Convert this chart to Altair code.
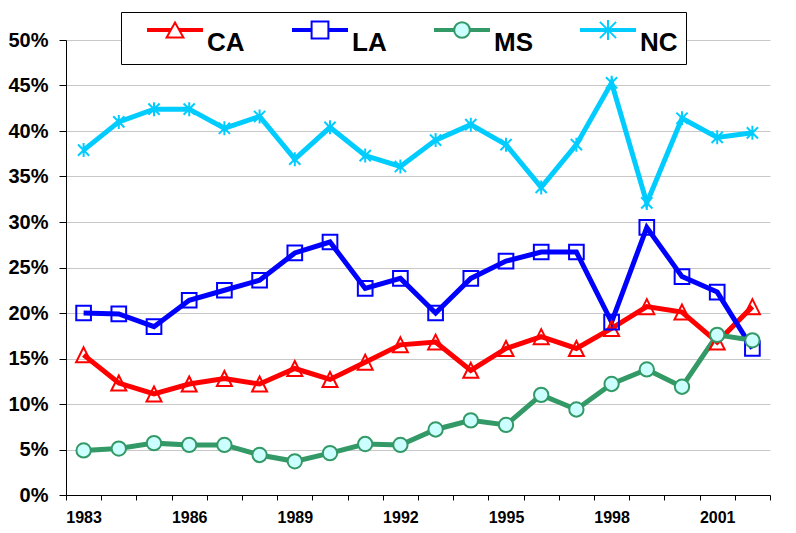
import altair as alt
import pandas as pd

years = list(range(1983, 2003))
series_names = ["CA", "LA", "MS", "NC"]
ca = [15.4, 12.3, 11.1, 12.2, 12.8, 12.2, 13.9, 12.7, 14.6, 16.5, 16.8, 13.7, 16.1, 17.4, 16.1, 18.3, 20.7, 20.1, 16.8, 20.7]
la = [20.0, 19.9, 18.5, 21.4, 22.5, 23.6, 26.6, 27.8, 22.7, 23.8, 20.0, 23.8, 25.7, 26.7, 26.7, 19.0, 29.4, 24.0, 22.3, 16.1]
ms = [4.9, 5.1, 5.7, 5.5, 5.5, 4.4, 3.7, 4.6, 5.6, 5.5, 7.2, 8.2, 7.7, 11.0, 9.4, 12.2, 13.8, 11.9, 17.6, 17.0]
nc = [37.9, 41.0, 42.4, 42.4, 40.3, 41.6, 36.9, 40.4, 37.3, 36.1, 39.0, 40.7, 38.5, 33.8, 38.5, 45.3, 32.1, 41.4, 39.3, 39.8]
line_colors = ["#FF0000", "#0000FF", "#339966", "#00CCFF"]
marker_fills = ["rgba(255,255,255,0)", "rgba(255,255,255,0)", "#CCFFFF", "rgba(255,255,255,0)"]
legend_fills = ["white", "white", "#CCFFFF", "white"]
y_ticks = [i * 0.05 for i in range(11)]

rows = []
for name, vals in zip(series_names, [ca, la, ms, nc]):
    for yr, v in zip(years, vals):
        rows.append({"year": yr, "series": name, "value": v / 100.0})
df = pd.DataFrame(rows)

TRI = "M0,-1L1,1L-1,1Z"
ASTER = "M0,-1L0,1M-0.8,-0.8L0.8,0.8M-0.8,0.8L0.8,-0.8"
marker_shapes = [TRI, "square", "circle", ASTER]
marker_sizes = [225, 196, 210, 324]


def seg(x0, x1):
    return "".join(f"M{x0},{dy}L{x1},{dy}" for dy in (-0.036, 0, 0.036))


legend_shapes = [
    seg(-1, -0.15) + seg(0.15, 1) + "M0,-0.27L0.3,0.27L-0.3,0.27Z",
    seg(-1, -0.3) + seg(0.3, 1) + "M-0.3,-0.3L0.3,-0.3L0.3,0.3L-0.3,0.3Z",
    seg(-1, -0.28) + seg(0.28, 1) + "M0.28,0A0.28,0.28 0 1,1 -0.28,0A0.28,0.28 0 1,1 0.28,0Z",
    seg(-1, 1) + "M0,-0.36L0,0.36M-0.29,-0.29L0.29,0.29M-0.29,0.29L0.29,-0.29",
]

FONT = "Liberation Sans"
NBSP = "\u00a0"

x_scale = alt.Scale(domain=[1982.5, 2002.5], nice=False, zero=False)
x_axis = alt.Axis(
    values=[y - 0.5 for y in years] + [2002.5],
    labelExpr="((datum.value + 0.5 - 1983) % 3 == 0) ? format(datum.value + 0.5, 'd') : ''",
    labelOffset=17.6,
    labelFlush=False,
    labelOverlap=False,
    grid=False,
    tickSize=5,
    tickColor="black",
    domainColor="black",
    labelFont=FONT,
    labelFontSize=16,
    labelFontWeight="bold",
    labelColor="black",
    labelPadding=9,
    title=None,
)
y_scale = alt.Scale(domain=[0, 0.5], nice=False)
y_axis = alt.Axis(
    values=y_ticks,
    format=".0%",
    grid=True,
    gridColor="#C8C8C8",
    gridWidth=1,
    tickSize=7,
    tickColor="black",
    domainColor="black",
    labelFont=FONT,
    labelFontSize=20,
    labelFontWeight="bold",
    labelColor="black",
    labelPadding=11,
    title=None,
)

legend = alt.Legend(
    title=None,
    orient="none",
    legendX=55,
    legendY=-28,
    direction="horizontal",
    columns=4,
    columnPadding=29,
    padding=8,
    clipHeight=20,
    symbolSize=3136,
    symbolStrokeWidth=2,
    symbolOpacity=1,
    symbolOffset=17,
    labelFont=FONT,
    labelFontSize=26,
    labelFontWeight="bold",
    labelColor="black",
    labelOffset=3,
    labelBaseline="top",
    labelExpr=f"datum.label == 'NC' ? datum.label + '{NBSP}{NBSP}' : datum.label + ' '",
    strokeColor="black",
    fillColor="white",
    cornerRadius=0,
)

base = alt.Chart(df).encode(
    x=alt.X("year:Q", scale=x_scale, axis=x_axis),
    y=alt.Y("value:Q", scale=y_scale, axis=y_axis),
)

lines = base.mark_line(strokeWidth=5).encode(
    color=alt.Color("series:N", scale=alt.Scale(domain=series_names, range=line_colors), legend=None),
    detail="series:N",
)

points = base.mark_point(filled=True, strokeWidth=2, opacity=1).encode(
    stroke=alt.Stroke("series:N", scale=alt.Scale(domain=series_names, range=line_colors), legend=None),
    fill=alt.Fill("series:N", scale=alt.Scale(domain=series_names, range=marker_fills), legend=None),
    shape=alt.Shape("series:N", scale=alt.Scale(domain=series_names, range=marker_shapes), legend=None),
    size=alt.Size("series:N", scale=alt.Scale(domain=series_names, range=marker_sizes), legend=None),
)

legend_layer = (
    base.mark_point(filled=True, strokeWidth=2, opacity=1)
    .encode(
        stroke=alt.Stroke("series:N", scale=alt.Scale(domain=series_names, range=line_colors), legend=legend),
        fill=alt.Fill("series:N", scale=alt.Scale(domain=series_names, range=legend_fills), legend=legend),
        shape=alt.Shape("series:N", scale=alt.Scale(domain=series_names, range=legend_shapes), legend=legend),
    )
    .transform_filter("datum.year < 0")
)

chart = (
    alt.layer(lines, points, legend_layer)
    .resolve_scale(shape="independent", stroke="independent", fill="independent")
    .properties(
        width=704,
        height=455,
        autosize=alt.AutoSizeParams(type="none"),
        padding={"left": 58, "top": 32, "right": 18, "bottom": 30},
        background="white",
    )
    .configure_view(stroke=None)
)

chart.save("out.html", embed_options={"renderer": "svg", "actions": False})
